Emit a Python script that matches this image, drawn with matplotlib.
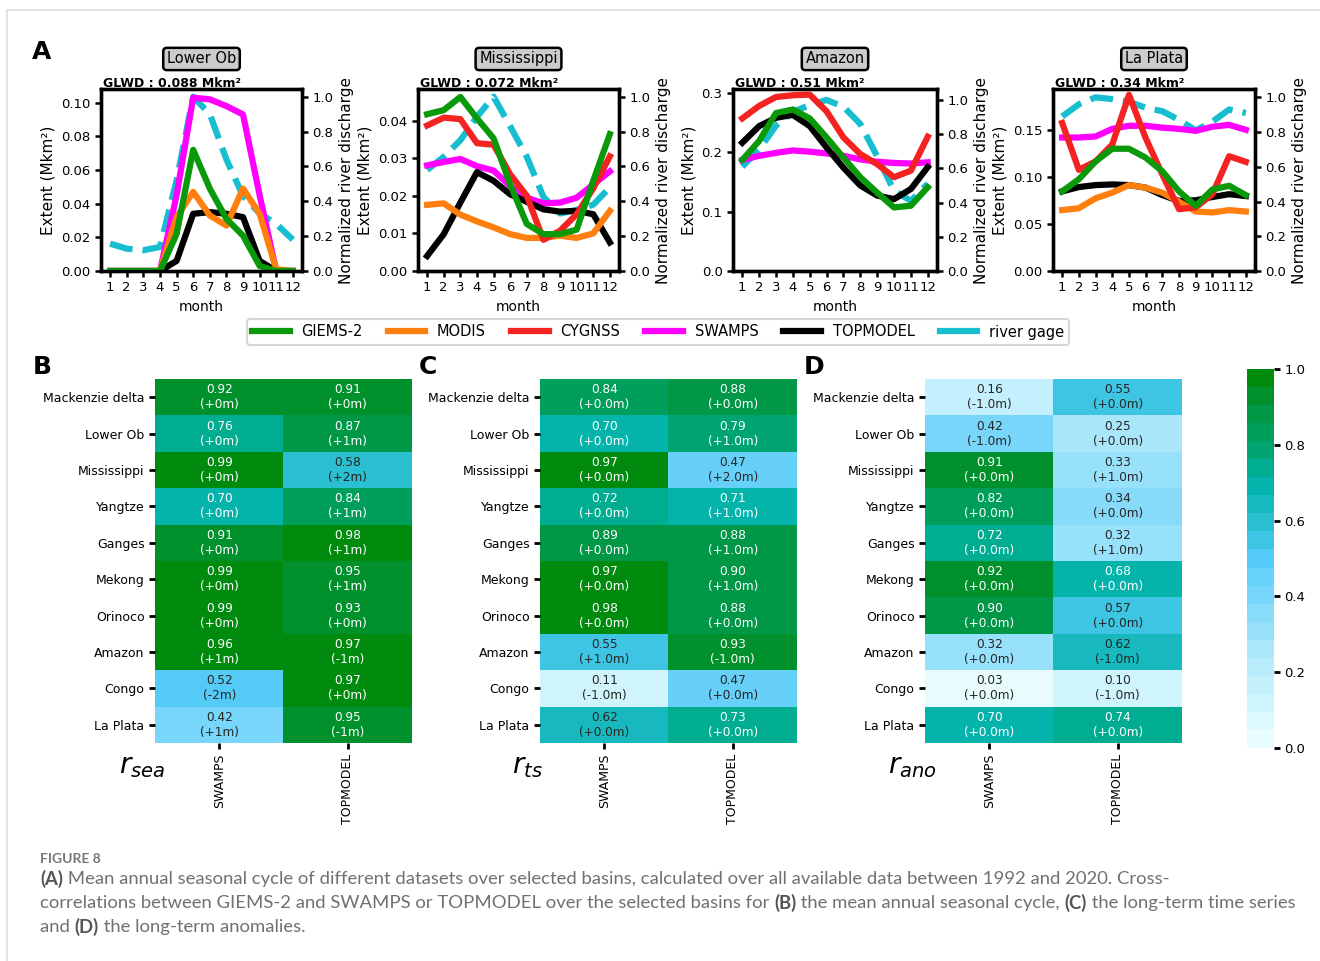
import matplotlib
matplotlib.use("Agg")
import matplotlib.pyplot as plt
import numpy as np
from matplotlib.colors import LinearSegmentedColormap, ListedColormap
from matplotlib.lines import Line2D

# ---- seasonal cycle data (panel A), one list per basin: Lower Ob, Mississippi, Amazon, La Plata
months = list(range(1, 13))
basins_a = ["Lower Ob", "Mississippi", "Amazon", "La Plata"]
glwd = ["0.088", "0.072", "0.51", "0.34"]

giems2 = [
    [0, 0, 0, 0, 0.022, 0.072, 0.049, 0.031, 0.021, 0.003, 0, 0],
    [0.0417, 0.0428, 0.0463, 0.0406, 0.0353, 0.023, 0.0125, 0.0098, 0.0098, 0.011, 0.024, 0.0364],
    [0.187, 0.219, 0.266, 0.272, 0.257, 0.225, 0.191, 0.158, 0.132, 0.107, 0.110, 0.141],
    [0.085, 0.098, 0.117, 0.1305, 0.1305, 0.121, 0.1065, 0.085, 0.0695, 0.087, 0.091, 0.081],
]
modis = [
    [0, 0, 0, 0, 0.032, 0.047, 0.033, 0.027, 0.049, 0.034, 0.001, 0],
    [0.0176, 0.018, 0.015, 0.0132, 0.0116, 0.0098, 0.0088, 0.0088, 0.0094, 0.0088, 0.010, 0.016],
    None,
    [0.065, 0.067, 0.0776, 0.0836, 0.0917, 0.089, 0.0836, 0.074, 0.0635, 0.0625, 0.065, 0.0635],
]
cygnss = [
    None,
    [0.0387, 0.0408, 0.0404, 0.034, 0.0336, 0.0257, 0.020, 0.0083, 0.0107, 0.0151, 0.022, 0.0305],
    [0.257, 0.278, 0.293, 0.296, 0.297, 0.269, 0.225, 0.197, 0.180, 0.158, 0.169, 0.226],
    [0.158, 0.108, 0.117, 0.135, 0.188, 0.142, 0.103, 0.066, 0.068, 0.082, 0.1225, 0.1165],
]
swamps = [
    [0, 0, 0, 0, 0.045, 0.103, 0.102, 0.098, 0.093, 0.045, 0, 0],
    [0.0281, 0.029, 0.0298, 0.0279, 0.0267, 0.0226, 0.0195, 0.018, 0.0182, 0.0195, 0.023, 0.0265],
    [0.187, 0.194, 0.199, 0.203, 0.201, 0.198, 0.194, 0.188, 0.184, 0.182, 0.181, 0.183],
    [0.1425, 0.1425, 0.1436, 0.1517, 0.155, 0.155, 0.153, 0.1517, 0.1496, 0.154, 0.156, 0.1507],
]
topmodel = [
    [0, 0, 0, 0, 0.006, 0.034, 0.035, 0.034, 0.032, 0.006, 0, 0],
    [0.004, 0.0098, 0.0182, 0.0263, 0.024, 0.0204, 0.0184, 0.0164, 0.0158, 0.016, 0.0151, 0.0076],
    [0.216, 0.244, 0.258, 0.263, 0.244, 0.208, 0.174, 0.144, 0.127, 0.121, 0.138, 0.175],
    [0.085, 0.0896, 0.0917, 0.0924, 0.0917, 0.089, 0.081, 0.0748, 0.0755, 0.079, 0.082, 0.080],
]
river_gage = [
    [0.157, 0.128, 0.119, 0.138, 0.52, 1.0, 0.90, 0.64, 0.43, 0.33, 0.27, 0.18],
    [0.58, 0.655, 0.75, 0.885, 1.0, 0.83, 0.655, 0.425, 0.33, 0.35, 0.38, 0.48],
    [0.61, 0.71, 0.85, 0.93, 0.97, 1.0, 0.96, 0.86, 0.67, 0.47, 0.41, 0.51],
    [0.89, 0.96, 1.0, 0.99, 0.975, 0.94, 0.92, 0.87, 0.81, 0.86, 0.93, 0.91],
]

# ---- cross-correlation heatmaps (B, C, D)
basins_b = ["Mackenzie delta", "Lower Ob", "Mississippi", "Yangtze", "Ganges",
            "Mekong", "Orinoco", "Amazon", "Congo", "La Plata"]
models = ["SWAMPS", "TOPMODEL"]

r_sea_swamps = [0.92, 0.76, 0.99, 0.70, 0.91, 0.99, 0.99, 0.96, 0.52, 0.42]
r_sea_topmodel = [0.91, 0.87, 0.58, 0.84, 0.98, 0.95, 0.93, 0.97, 0.97, 0.95]
lag_sea_swamps = ["+0m", "+0m", "+0m", "+0m", "+0m", "+0m", "+0m", "+1m", "-2m", "+1m"]
lag_sea_topmodel = ["+0m", "+1m", "+2m", "+1m", "+1m", "+1m", "+0m", "-1m", "+0m", "-1m"]

r_ts_swamps = [0.84, 0.70, 0.97, 0.72, 0.89, 0.97, 0.98, 0.55, 0.11, 0.62]
r_ts_topmodel = [0.88, 0.79, 0.47, 0.71, 0.88, 0.90, 0.88, 0.93, 0.47, 0.73]
lag_ts_swamps = ["+0.0m", "+0.0m", "+0.0m", "+0.0m", "+0.0m", "+0.0m", "+0.0m", "+1.0m", "-1.0m", "+0.0m"]
lag_ts_topmodel = ["+0.0m", "+1.0m", "+2.0m", "+1.0m", "+1.0m", "+1.0m", "+0.0m", "-1.0m", "+0.0m", "+0.0m"]

r_ano_swamps = [0.16, 0.42, 0.91, 0.82, 0.72, 0.92, 0.90, 0.32, 0.03, 0.70]
r_ano_topmodel = [0.55, 0.25, 0.33, 0.34, 0.32, 0.68, 0.57, 0.62, 0.10, 0.74]
lag_ano_swamps = ["-1.0m", "-1.0m", "+0.0m", "+0.0m", "+0.0m", "+0.0m", "+0.0m", "+0.0m", "+0.0m", "+0.0m"]
lag_ano_topmodel = ["+0.0m", "+0.0m", "+1.0m", "+0.0m", "+1.0m", "+0.0m", "+0.0m", "-1.0m", "-1.0m", "+0.0m"]

W, H = 1320, 961
fig = plt.figure(figsize=(W / 100, H / 100), dpi=100)


def rect(l, t, r, b):
    return [l / W, 1 - b / H, (r - l) / W, (b - t) / H]


c_giems = "#0a990a"
c_modis = "#ff7f0e"
c_cyg = "#f52222"
c_swamps = "#ff00ff"
c_top = "black"
c_gage = "#17becf"
lw = 4.5

# page frame
fig.add_artist(Line2D([7 / W, 1], [1 - 10 / H, 1 - 10 / H], color="#dddddd", lw=1.2))
fig.add_artist(Line2D([7 / W, 7 / W], [0, 1 - 10 / H], color="#dddddd", lw=1.2))

cols_a = [(101, 302), (418, 619), (733, 937), (1053, 1255)]
yticks_a = [np.arange(0, 0.101, 0.02), np.arange(0, 0.041, 0.01), np.arange(0, 0.31, 0.1), np.arange(0, 0.151, 0.05)]
yfmt_a = ["%.2f", "%.2f", "%.1f", "%.2f"]
rtop_a = [1.044, 1.044, 1.064, 1.048]

for i in range(4):
    l, r = cols_a[i]
    ax = fig.add_axes(rect(l, 89, r, 271))
    ax2 = ax.twinx()
    ax2.plot(months, river_gage[i], color=c_gage, lw=lw, ls="--")
    ax2.set_ylim(0, rtop_a[i])
    ax2.set_yticks(np.arange(0, 1.01, 0.2))
    ax2.yaxis.set_major_formatter(matplotlib.ticker.FormatStrFormatter("%.1f"))
    ax2.set_ylabel("Normalized river discharge", fontsize=11)
    ax.set_zorder(ax2.get_zorder() + 1)
    ax.patch.set_visible(False)

    for series, c in [(swamps, c_swamps), (topmodel, c_top), (modis, c_modis),
                      (cygnss, c_cyg), (giems2, c_giems)]:
        if series[i] is not None:
            ax.plot(months, series[i], color=c, lw=lw)
    ax.set_ylim(bottom=0)
    ax.set_yticks(yticks_a[i])
    ax.yaxis.set_major_formatter(matplotlib.ticker.FormatStrFormatter(yfmt_a[i]))
    ax.set_xticks(months)
    ax.set_xlabel("month", fontsize=10)
    ax.set_ylabel("Extent (Mkm²)", fontsize=11)
    for a in (ax, ax2):
        a.tick_params(labelsize=9.5, width=1.8, length=4)
        for s in a.spines.values():
            s.set_linewidth(2.4)
    ax.text(0.5, 1.165, basins_a[i], transform=ax.transAxes, ha="center", va="center", fontsize=10.5,
            bbox=dict(boxstyle="round,pad=0.25", fc="#cccccc", ec="black", lw=1.8))
    ax.text(0.01, 0.995, "GLWD : " + glwd[i] + " Mkm²", transform=ax.transAxes, ha="left", va="bottom",
            fontsize=9, fontweight="bold")

handles = [Line2D([], [], color=c, lw=lw) for c in [c_giems, c_modis, c_cyg, c_swamps, c_top, c_gage]]
labels = ["GIEMS-2", "MODIS", "CYGNSS", "SWAMPS", "TOPMODEL", "river gage"]
leg = fig.legend(handles, labels, loc="center", bbox_to_anchor=(658 / W, 1 - 332 / H), ncol=6,
                 fontsize=10.5, handlelength=2.6, columnspacing=1.7, borderpad=0.35, fancybox=True)
leg.get_frame().set_edgecolor("#cccccc")
leg.get_frame().set_linewidth(1.5)

# colormap: light cyan -> sky blue -> teal -> green, 21 levels
base = LinearSegmentedColormap.from_list(
    "cc", [(0.0, "#effffe"), (0.25, "#aee8fb"), (0.5, "#55cbf8"), (0.6, "#29bfd0"),
           (0.7, "#00b3a8"), (0.8, "#00a36a"), (0.9, "#009540"), (1.0, "#008800")])
cmap = ListedColormap(base((np.arange(21) + 0.5) / 21))

heat = [
    (r_sea_swamps, r_sea_topmodel, lag_sea_swamps, lag_sea_topmodel, r"$r_{sea}$"),
    (r_ts_swamps, r_ts_topmodel, lag_ts_swamps, lag_ts_topmodel, r"$r_{ts}$"),
    (r_ano_swamps, r_ano_topmodel, lag_ano_swamps, lag_ano_topmodel, r"$r_{ano}$"),
]
cols_h = [(155, 412), (540, 797), (925, 1182)]
for k in range(3):
    sw, tm, lsw, ltm, name = heat[k]
    l, r = cols_h[k]
    ax = fig.add_axes(rect(l, 379, r, 743))
    data = np.array([sw, tm]).T
    lags = np.array([lsw, ltm]).T
    im = ax.imshow(data, cmap=cmap, vmin=0, vmax=1, aspect="auto", interpolation="nearest")
    for a in range(data.shape[0]):
        for b in range(data.shape[1]):
            v = data[a, b]
            ax.text(b, a, "%.2f\n(%s)" % (v, lags[a, b]), ha="center", va="center", fontsize=8.7,
                    color="white" if v >= 0.65 else "#262626")
    ax.set_yticks(range(len(basins_b)))
    ax.set_yticklabels(basins_b, fontsize=9)
    ax.set_xticks([0, 1])
    ax.set_xticklabels(models, rotation=90, fontsize=9)
    ax.tick_params(width=2, length=4)
    for s in ax.spines.values():
        s.set_visible(False)
    ax.text(-0.05, -0.063, name, transform=ax.transAxes, ha="center", va="center", fontsize=20)

cax = fig.add_axes(rect(1247, 369, 1274, 748))
cb = fig.colorbar(im, cax=cax)
cb.outline.set_visible(False)
cb.set_ticks([0, 0.2, 0.4, 0.6, 0.8, 1.0])
cax.tick_params(labelsize=9.5, width=2, length=4)

for letter, x, y in [("A", 42, 52), ("B", 42, 367), ("C", 428, 367), ("D", 814, 367)]:
    fig.text(x / W, 1 - y / H, letter, fontsize=18, fontweight="bold", ha="center", va="center")

# caption
renderer = fig.canvas.get_renderer()
fig.text(40 / W, 1 - 859 / H, "FIGURE 8", fontsize=10, family="Lato", fontweight="bold",
         color="#777777", va="center")


def rich_line(x, y, parts, size=13.3):
    x = x / W
    for txt, bold in parts:
        t = fig.text(x, 1 - y / H, txt, fontsize=size, family="Lato",
                     fontweight="bold" if bold else "normal",
                     color="#555555" if bold else "#707070", va="center")
        x += t.get_window_extent(renderer).width / W


rich_line(40, 879, [("(A)", True), (" Mean annual seasonal cycle of different datasets over selected basins, "
                                    "calculated over all available data between 1992 and 2020. Cross-", False)])
rich_line(40, 903, [("correlations between GIEMS-2 and SWAMPS or TOPMODEL over the selected basins for ", False),
                    ("(B)", True), (" the mean annual seasonal cycle, ", False), ("(C)", True),
                    (" the long-term time series", False)])
rich_line(40, 927, [("and ", False), ("(D)", True), (" the long-term anomalies.", False)])

fig.savefig("out.png", dpi=100)
